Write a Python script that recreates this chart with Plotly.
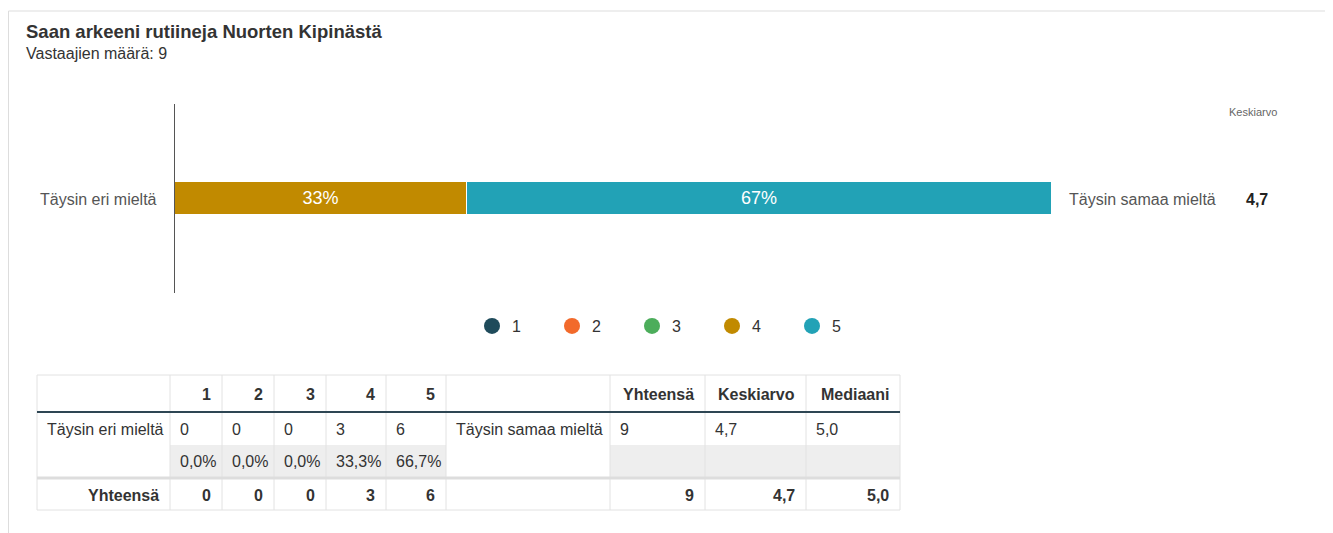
import plotly.graph_objects as go

# page body has an 8px margin; figure sized to fit the window exactly
OFF = 8
W, H = 1333 - OFF, 533 - OFF
FONT = "Liberation Sans, Arial, sans-serif"

# ---- data ----
title = "Saan arkeeni rutiineja Nuorten Kipinästä"
subtitle = "Vastaajien määrä: 9"
categories = ["1", "2", "3", "4", "5"]
counts = [0, 0, 0, 3, 6]
colors = ["#1f4b5b", "#f26a2b", "#4cad5b", "#c18a00", "#22a2b6"]
left_label = "Täysin eri mieltä"
right_label = "Täysin samaa mieltä"
total_label = "Yhteensä"
stat_headers = ["Yhteensä", "Keskiarvo", "Mediaani"]
total_n = 9
mean_val = 4.7
median_val = 5.0


def fi(v, d=1):
    return f"{v:.{d}f}".replace(".", ",")


def px(x):
    return (x - OFF) / W


def py(y):
    return 1 - (y - OFF) / H


fig = go.Figure()

# stacked bar
for cat, c, col in zip(categories, counts, colors):
    pct = c / total_n * 100
    fig.add_trace(go.Bar(
        y=[left_label], x=[c], orientation="h", name=cat,
        marker=dict(color=col, line=dict(color="white", width=1)),
        text=[f"{pct:.0f}%" if c > 0 else ""], textposition="inside",
        insidetextanchor="middle", textfont=dict(color="white", size=18, family=FONT),
        width=0.175, showlegend=False, hoverinfo="skip",
    ))
# legend entries (circles)
for cat, col in zip(categories, colors):
    fig.add_trace(go.Scatter(x=[None], y=[None], mode="markers", name=cat,
                             marker=dict(color=col, size=17, symbol="circle"),
                             showlegend=True))

shapes = []
ann = []

# frame lines
shapes.append(dict(type="line", xref="paper", yref="paper", x0=px(8.5), x1=px(1333), y0=py(11), y1=py(11),
                   line=dict(color="#dddddd", width=1)))
shapes.append(dict(type="line", xref="paper", yref="paper", x0=px(8.5), x1=px(8.5), y0=py(11), y1=py(533),
                   line=dict(color="#dddddd", width=1)))

# titles
ann.append(dict(text=f"<b>{title}</b>", x=px(24), y=py(32), xref="paper", yref="paper", xanchor="left",
                yanchor="middle", showarrow=False, font=dict(size=18.5, color="#333333", family=FONT)))
ann.append(dict(text=subtitle, x=px(24), y=py(53), xref="paper", yref="paper", xanchor="left",
                yanchor="middle", showarrow=False, font=dict(size=16, color="#333333", family=FONT)))

# side labels
ann.append(dict(text=left_label, x=px(159), y=py(200), xref="paper", yref="paper", xanchor="right",
                yanchor="middle", showarrow=False, font=dict(size=16, color="#555555", family=FONT)))
ann.append(dict(text=right_label, x=px(1067), y=py(200), xref="paper", yref="paper", xanchor="left",
                yanchor="middle", showarrow=False, font=dict(size=16, color="#555555", family=FONT)))
ann.append(dict(text=f"<b>{fi(mean_val)}</b>", x=px(1244), y=py(200), xref="paper", yref="paper", xanchor="left",
                yanchor="middle", showarrow=False, font=dict(size=16, color="#222222", family=FONT)))
ann.append(dict(text="Keskiarvo", x=px(1227), y=py(112), xref="paper", yref="paper", xanchor="left",
                yanchor="middle", showarrow=False, font=dict(size=11, color="#666666", family=FONT)))

# ---- table ----
cols = [37, 170, 222, 274, 326, 386, 446, 610, 705, 806, 900]
top, hdr_b, r1_b, r2_b, bot = 375, 412, 445, 477, 510
grid = "#e2e2e2"

# gray fills for percent row
for i in list(range(1, 6)) + list(range(7, 10)):
    shapes.append(dict(type="rect", xref="paper", yref="paper", x0=px(cols[i]), x1=px(cols[i + 1]),
                       y0=py(r1_b), y1=py(r2_b), fillcolor="#eeeeee", line=dict(width=0), layer="below"))

# vertical lines
for cx in cols:
    shapes.append(dict(type="line", xref="paper", yref="paper", x0=px(cx), x1=px(cx), y0=py(top), y1=py(bot),
                       line=dict(color=grid, width=1)))
# horizontal borders
for yy in (top, bot):
    shapes.append(dict(type="line", xref="paper", yref="paper", x0=px(cols[0]), x1=px(cols[-1]), y0=py(yy),
                       y1=py(yy), line=dict(color=grid, width=1)))
shapes.append(dict(type="line", xref="paper", yref="paper", x0=px(cols[0]), x1=px(cols[-1]), y0=py(478), y1=py(478),
                   line=dict(color="#dddddd", width=3)))
shapes.append(dict(type="line", xref="paper", yref="paper", x0=px(cols[0]), x1=px(cols[-1]), y0=py(hdr_b),
                   y1=py(hdr_b), line=dict(color="#2e4653", width=2)))


def cell(text, ci, yc, align="left", bold=False):
    if bold:
        text = f"<b>{text}</b>"
    if align == "left":
        x, xa = cols[ci] + 8, "left"
    else:
        x, xa = cols[ci + 1] - 9, "right"
    ann.append(dict(text=text, x=px(x), y=py(yc), xref="paper", yref="paper", xanchor=xa, yanchor="middle",
                    showarrow=False, font=dict(size=16, color="#333333", family=FONT)))


# header
for i, cat in enumerate(categories):
    cell(cat, i + 1, 394, "right", True)
for i, h in enumerate(stat_headers):
    cell(h, 7 + i, 394, "right", True)
# row 1
cell(left_label, 0, 429)
for i, c in enumerate(counts):
    cell(str(c), i + 1, 429)
cell(right_label, 6, 429)
cell(str(total_n), 7, 429)
cell(fi(mean_val), 8, 429)
cell(fi(median_val), 9, 429)
# row 2 percentages
for i, c in enumerate(counts):
    cell(fi(c / total_n * 100) + "%", i + 1, 461)
# totals row
cell(total_label, 0, 495, "right", True)
for i, c in enumerate(counts):
    cell(str(c), i + 1, 495, "right", True)
cell(str(total_n), 7, 495, "right", True)
cell(fi(mean_val), 8, 495, "right", True)
cell(fi(median_val), 9, 495, "right", True)

fig.update_layout(
    width=W, height=H, autosize=False,
    margin=dict(l=0, r=0, t=0, b=0),
    paper_bgcolor="white", plot_bgcolor="white",
    barmode="stack", bargap=0,
    font=dict(family=FONT, color="#333333"),
    xaxis=dict(domain=[px(175), px(1052)], range=[0, total_n], visible=False, fixedrange=True),
    yaxis=dict(domain=[py(293), py(104)], range=[-0.5, 0.5], showline=True, linecolor="#555555",
               linewidth=1, showticklabels=False, ticks="", showgrid=False, zeroline=False, fixedrange=True),
    legend=dict(orientation="h", x=px(672), y=py(326), xanchor="center", yanchor="middle",
                traceorder="normal", itemwidth=30,
                font=dict(size=16, color="#333333", family=FONT), entrywidth=35, itemclick=False),
    shapes=shapes, annotations=ann,
)

fig.write_html("out.html")
